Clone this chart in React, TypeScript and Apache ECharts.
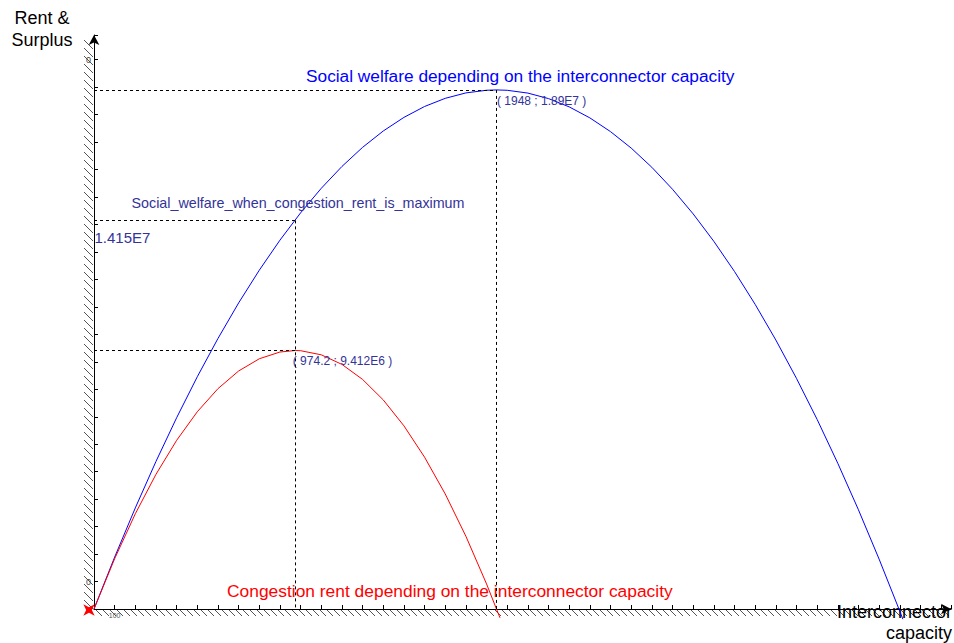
import React, { useEffect, useRef } from "react";
import * as echarts from "echarts";

// Interconnector capacity (x) and social welfare values (millions)
const swCapacity = [0, 100, 200, 300, 400, 500, 600, 700, 800, 900, 1000, 1100, 1200, 1300, 1400, 1500, 1600, 1700, 1800, 1900, 1948, 2000, 2100, 2200, 2300, 2400, 2500, 2600, 2700, 2800, 2900, 3000, 3100, 3200, 3300, 3400, 3500, 3600, 3700, 3800, 3896, 3915];
const swValuesM = [0, 1.89, 3.682, 5.373, 6.965, 8.457, 9.85, 11.143, 12.336, 13.43, 14.424, 15.318, 16.113, 16.809, 17.404, 17.9, 18.297, 18.594, 18.791, 18.888, 18.9, 18.887, 18.785, 18.584, 18.283, 17.882, 17.382, 16.783, 16.083, 15.284, 14.386, 13.388, 12.29, 11.093, 9.796, 8.399, 6.903, 5.307, 3.612, 1.817, 0, -0.37];

// Congestion rent (millions)
const crCapacity = [0, 100, 200, 300, 400, 500, 600, 700, 800, 900, 974.2, 1000, 1100, 1200, 1300, 1400, 1500, 1600, 1700, 1800, 1900, 1948, 1965];
const crValuesM = [0, 1.833, 3.468, 4.904, 6.142, 7.182, 8.023, 8.666, 9.111, 9.357, 9.412, 9.405, 9.255, 8.906, 8.359, 7.614, 6.67, 5.528, 4.188, 2.649, 0.912, 0, -0.32];

// Key points
const swMax: [number, number] = [1948, 1.89e7];
const crMax: [number, number] = [974.2, 9.412e6];
const swAtCrMax: [number, number] = [974.2, 1.415e7];

const swMaxLabel = "( 1948 ; 1.89E7 )";
const crMaxLabel = "( 974.2 ; 9.412E6 )";
const swAtCrMaxLabel = "1.415E7";
const swAtCrMaxTitle = "Social_welfare_when_congestion_rent_is_maximum";

const yLabelTicks = [1e6, 2e7];
const xLabelTicks = [100];

const titleSW = "Social welfare depending on the interconnector capacity";
const titleCR = "Congestion rent depending on the interconnector capacity";
const yName = "Rent &\nSurplus";
const xName = "Interconnector\ncapacity";

const FONT = "Arial, 'Liberation Sans', sans-serif";
const LABEL_COLOR = "#333399";

export default function App() {
  const ref = useRef<HTMLDivElement>(null);
  useEffect(() => {
    if (!ref.current) return;
    const chart = echarts.init(ref.current, undefined, { renderer: "svg" });
    const gLeft = 94, gTop = 35, gRight = 2, gBottom = 34;
    const W = 954, H = 643;
    const axisY = H - gBottom;
    const hatch: any[] = [];
    for (let y = 40; y < axisY - 3; y += 8) {
      hatch.push({ type: "line", silent: true, shape: { x1: gLeft - 10, y1: y, x2: gLeft - 1, y2: y + 9 }, style: { stroke: "#555", lineWidth: 1 } });
    }
    for (let x = gLeft + 2; x < W - 6; x += 7) {
      hatch.push({ type: "line", silent: true, shape: { x1: x, y1: axisY + 1, x2: x + 6, y2: axisY + 7 }, style: { stroke: "#555", lineWidth: 1 } });
    }
    const dashed = { type: [3, 3] as any, color: "#000", width: 1 };
    chart.setOption({
      animation: false,
      backgroundColor: "#fff",
      grid: { left: gLeft, top: gTop, right: gRight, bottom: gBottom, containLabel: false },
      xAxis: {
        type: "value",
        min: 0,
        max: 4148,
        interval: 100,
        axisLine: { show: true, lineStyle: { color: "#000", width: 1 }, symbol: ["none", "arrow"], symbolSize: [8, 10] },
        axisTick: { show: true, inside: true, length: 4, lineStyle: { color: "#000" } },
        axisLabel: {
          show: true,
          fontSize: 7,
          color: "#555",
          margin: 3,
          fontFamily: FONT,
          formatter: (v: number) => (xLabelTicks.includes(v) ? String(v) : ""),
        },
        splitLine: { show: false },
      },
      yAxis: {
        type: "value",
        min: 0,
        max: 2.09e7,
        interval: 1e6,
        axisLine: { show: true, lineStyle: { color: "#000", width: 1 }, symbol: ["none", "arrow"], symbolSize: [8, 10] },
        axisTick: { show: true, inside: true, length: 4, lineStyle: { color: "#000" } },
        axisLabel: {
          show: true,
          fontSize: 9,
          color: "#444",
          margin: 3,
          fontFamily: FONT,
          formatter: (v: number) => (yLabelTicks.includes(v) ? "0" : ""),
        },
        splitLine: { show: false },
      },
      graphic: [
        ...hatch,
        { type: "text", silent: true, x: 42, y: 29, style: { text: yName, font: `18px ${FONT}`, fill: "#000", align: "center", verticalAlign: "middle", lineHeight: 22 } },
        { type: "text", silent: true, x: 952, y: 622, style: { text: xName, font: `18px ${FONT}`, fill: "#000", align: "right", verticalAlign: "middle", lineHeight: 21 } },
        { type: "text", silent: true, x: 306, y: 76, style: { text: titleSW, font: `17.3px ${FONT}`, fill: "#0000ff", align: "left", verticalAlign: "middle" } },
        { type: "text", silent: true, x: 227, y: 591, style: { text: titleCR, font: `17.4px ${FONT}`, fill: "#ff0000", align: "left", verticalAlign: "middle" } },
      ],
      series: [
        {
          type: "line",
          name: "Social welfare",
          data: swCapacity.map((x, i) => [x, swValuesM[i] * 1e6]),
          showSymbol: false,
          clip: false,
          lineStyle: { color: "#0000ff", width: 1 },
          itemStyle: { color: "#0000ff" },
          z: 3,
          markLine: {
            silent: true,
            symbol: "none",
            label: { show: false },
            lineStyle: dashed,
            data: [
              [{ coord: [0, swMax[1]] }, { coord: swMax }],
              [{ coord: swMax }, { coord: [swMax[0], 0] }],
              [{ coord: [0, swAtCrMax[1]] }, { coord: swAtCrMax }],
              [{ coord: swAtCrMax }, { coord: [swAtCrMax[0], 0] }],
              [{ coord: [0, crMax[1]] }, { coord: crMax }],
            ],
          },
        },
        {
          type: "line",
          name: "Congestion rent",
          data: crCapacity.map((x, i) => [x, crValuesM[i] * 1e6]),
          showSymbol: false,
          clip: false,
          lineStyle: { color: "#ff0000", width: 1 },
          itemStyle: { color: "#ff0000" },
          z: 3,
        },
        {
          type: "scatter",
          symbolSize: 1,
          itemStyle: { color: "transparent", opacity: 1 },
          silent: true,
          z: 4,
          data: [
            { value: swMax, label: { show: true, formatter: swMaxLabel, position: [1, 6], fontSize: 12 } },
            { value: crMax, label: { show: true, formatter: crMaxLabel, position: [-2, 5], fontSize: 12 } },
            { value: [0, swAtCrMax[1]], label: { show: true, formatter: swAtCrMaxLabel, position: [1, 10], fontSize: 15 } },
            { value: [0, swAtCrMax[1]], label: { show: true, formatter: swAtCrMaxTitle, position: [38, -24], fontSize: 14.3 } },
          ],
          label: { color: LABEL_COLOR, opacity: 1, fontFamily: FONT, align: "left", verticalAlign: "top" },
        },
        {
          type: "scatter",
          symbol: "path://M0,-10 L2.5,-2.5 L10,0 L2.5,2.5 L0,10 L-2.5,2.5 L-10,0 L-2.5,-2.5 Z",
          symbolSize: 16,
          symbolRotate: 45,
          symbolOffset: [-5, 1],
          itemStyle: { color: "#ff0000", opacity: 1 },
          silent: true,
          z: 5,
          data: [[0, 0]],
        },
      ],
    });
    return () => chart.dispose();
  }, []);
  return <div ref={ref} style={{ position: "fixed", left: 0, top: 0, width: 954, height: 643 }} />;
}
